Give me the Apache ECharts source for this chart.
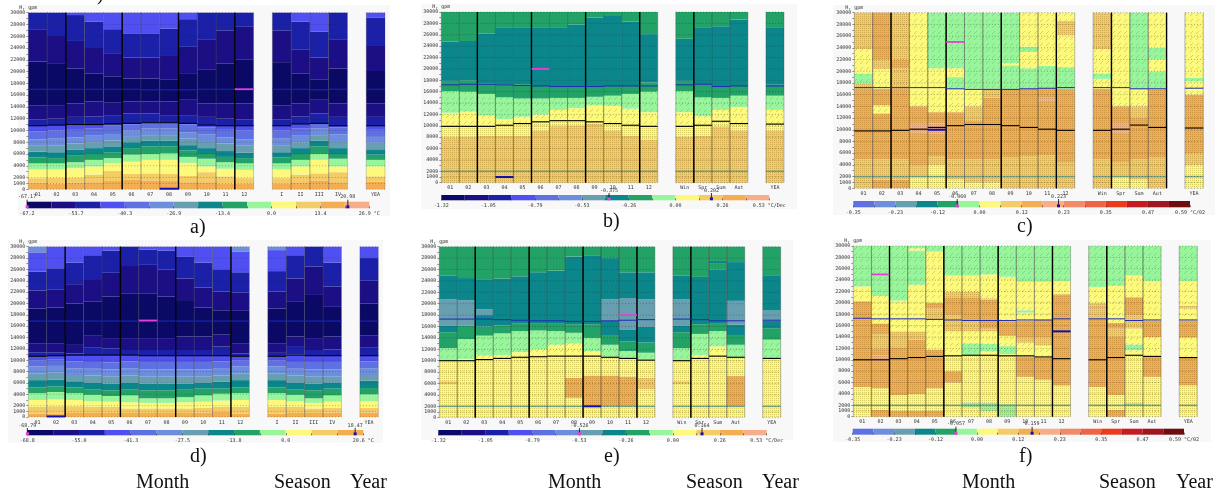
<!DOCTYPE html>
<html><head><meta charset="utf-8">
<style>html,body{margin:0;padding:0;background:#fff}#c{width:1224px;height:495px;filter:blur(0.35px)}</style>
<script src="https://cdn.jsdelivr.net/npm/echarts@6/dist/echarts.min.js"></script>
</head><body><div id="c"></div>
<script>
// ---- shared categories and ticks
const monthCats = ['01','02','03','04','05','06','07','08','09','10','11','12'];
const romanSeasons = ['I','II','III','IV'];
const namedSeasons = ['Win','Spr','Sum','Aut'];
const yearCat = ['YEA'];
const heightTicks = [0,1000,2000,4000,6000,8000,10000,12000,14000,16000,18000,20000,22000,24000,26000,28000,30000];
const levelColors = ['#0a0a66','#1c0f86','#1a20a8','#4f4ff2','#5f70e2','#6c8edc','#689fb0','#0b878c','#22a266','#98f59c','#fcf97c','#f4cc66','#f4ae52','#f6ae8a','#f08a68','#ee6444','#e83c1c','#c41c22','#a0161e','#6e0c10'];

// ---- each column: level, top (km), level, top ... from the ground upward
const a_bands = [
[12,1.1,11,1.9,10,3.4,9,4.4,8,5.4,7,6.4,6,7.5,5,8.5,4,9.8,3,10.8,2,11.9,1,14.2,0,21.7,1,27.2,2,30],
[12,1,11,2,10,3.4,9,4.4,8,5.3,7,6.3,6,7.4,5,8.6,4,10,3,10.9,2,12,1,14.3,0,21.3,1,26.2,2,30],
[12,1.1,11,2,10,3.6,9,4.6,8,5.7,7,6.7,6,7.8,5,8.8,4,10.1,3,10.9,2,12.3,1,14.6,0,20.5,1,25.2,2,29.6,3,30],
[12,1.2,11,2.5,10,3.9,9,5,8,6,7,7,6,8,5,9.1,4,10.3,3,11,2,12.4,1,14.9,0,19.7,1,24,2,28.5,3,30],
[12,1.4,11,3.1,10,4.4,9,5.3,8,6.3,7,7.3,6,8.3,5,9.4,4,10.8,3,11,2,12.6,1,14.7,0,19.2,1,23,2,27.2,3,30],
[12,1.6,11,2.6,10,4.7,9,5.9,8,7,7,8,6,8.9,5,10,4,11,3,11.1,2,12.9,1,14.9,0,18.8,1,22.4,2,26.5,3,30],
[12,1.5,11,2.7,10,5,9,6,8,7.3,7,8.3,6,9.2,5,10.3,4,11.2,3,11.3,2,12.9,1,14.9,0,18.8,1,22.4,2,26.5,3,30],
[12,1.4,11,2.6,10,5,9,6.1,8,7.3,7,8.3,6,9.2,5,10.3,4,11.2,3,11.3,2,12.6,1,14.9,0,18.7,1,22.8,2,27.3,3,30],
[12,1.2,11,2.3,10,4.5,9,5.5,8,6.6,7,7.5,6,8.6,5,9.7,4,11,3,11.2,2,12.6,1,15.2,0,19.6,1,24.2,2,28.9,3,30],
[12,1.2,11,2.9,10,3.9,9,5.2,8,6,7,7,6,8.2,5,9.3,4,10.5,3,10.9,2,12.3,1,14.6,0,20.4,1,25.5,2,30],
[12,1,11,2.2,10,3.5,9,4.6,8,5.5,7,6.5,6,7.8,5,8.8,4,10.1,3,10.8,2,12,1,14.6,0,21.4,1,27,2,30],
[12,1,11,1.9,10,3.3,9,4.4,8,5.3,7,6.2,6,7.4,5,8.5,4,10,3,10.8,2,11.9,1,14.6,0,22,1,27.6,2,30],
[12,1,11,1.9,10,3.4,9,4.4,8,5.4,7,6.3,6,7.5,5,8.6,4,10,3,10.8,2,11.9,1,14.2,0,21.6,1,27,2,30],
[12,1.2,11,2.5,10,3.9,9,5,8,6,7,7,6,8,5,9.1,4,10.3,3,11.1,2,12.4,1,14.6,0,19.7,1,23.7,2,28.5,3,30],
[12,1.5,11,2.7,10,5,9,6,8,7.3,7,8.3,6,9.2,5,10.3,4,11.2,2,12.9,1,15.2,0,18.6,1,22.4,2,26.8,3,30],
[12,1.2,11,2.9,10,3.9,9,5.2,8,6,7,7,6,8.2,5,9.3,4,10.5,3,10.8,2,12.3,1,14.6,0,20.5,1,25.5,2,30],
[12,1.3,11,2.2,10,3.9,9,5,8,5.9,7,6.8,6,7.9,5,8.9,4,10.1,3,10.8,2,12.3,1,14.6,0,20.1,1,24.5,2,29.2,3,30]];
const a_lower = [10.8,10.9,11,11,11.1,11.2,11.3,11.3,11.2,10.9,10.8,10.8,10.8,11.1,11.2,10.8,10.8];
const a_upper = [17,17,17,17,17,17,16.9,16.9,16.9,17,17,17,17,17,16.9,17,17];

const b_bands = [
[11,8,10,12.3,9,16.1,8,17.9,7,24.8,8,30],
[11,8.1,10,12.5,9,16,8,18,7,24.9,8,30],
[11,8.2,10,11.8,9,15.6,8,17.4,7,26.2,8,30],
[11,8.2,10,11.2,9,15,8,17.3,7,27.3,8,30],
[11,8.2,10,11.6,9,14.8,8,17.3,7,27.2,8,30],
[11,9.2,10,12,9,14.8,8,17,7,27.2,8,30],
[11,9.9,10,12.8,9,14.9,8,16.9,7,27.2,8,30],
[11,10,10,13.1,9,14.9,8,16.9,7,27.8,8,30],
[11,10.4,10,13.6,9,15.1,8,16.9,7,29,8,30],
[11,9.2,10,13.5,9,15.3,8,17,7,29.3,8,30],
[11,8.2,10,13,9,15.6,8,17,7,28.3,8,30],
[11,7.6,10,12.4,9,16,8,17.6,7,26.1,8,30],
[11,8.1,10,12.4,9,16.1,8,17.9,7,25.3,8,30],
[11,8.2,10,11.7,9,15,8,17.3,7,27.2,8,30],
[11,9.8,10,12.8,9,14.9,8,16.9,7,27.5,8,30],
[11,9.2,10,13.3,9,15.3,8,17,7,28.7,8,30],
[11,9.2,10,12.8,9,15.3,8,17.2,7,27.2,8,30]];
const b_lower = [9.9,9.9,9.9,10.1,10.4,10.7,10.9,10.9,10.7,10.4,10.1,9.9,9.9,10.1,10.8,10.4,10.3];
const b_upper = [17.2,17.3,17.3,17.2,17.1,17,16.9,16.9,16.9,17,17,17,17.2,17.3,16.9,17,17];

const c_bands = [
[11,5,12,17,11,17.9,9,19.6,10,23.8,11,30],
[12,1.5,11,5,12,12.8,10,14.2,12,17,10,20.4,11,22,12,30],
[12,1.5,11,5,12,17,11,20.5,12,22,11,30],
[10,2,11,4,12,9.5,13,11,12,14,10,30],
[10,4,11,5.5,12,9.3,13,11.1,12,13,10,20.5,9,30],
[10,1.5,11,5,12,13,10,17,9,19,10,20.5,9,30],
[10,1,11,5,12,11.5,11,14,10,17,9,30],
[10,1,11,5,12,15.5,11,17,9,30],
[11,5.2,12,16.9,9,21,10,21.4,9,30],
[11,5.5,12,17,9,20.5,10,23.3,9,24.2,10,30],
[11,5.6,12,15,13,15.6,12,17.2,9,20.9,10,30],
[11,4.5,12,17,9,20.7,10,26.2,11,28.6,10,30],
[11,5,12,17,10,18.7,9,19.6,10,23.8,11,30],
[10,2,11,4.5,12,9.5,13,11,12,14,10,30],
[10,1.5,11,5,12,12,11,14,10,17,9,30],
[11,5.2,12,16.9,9,20,10,22,9,24,10,30],
[10,4,11,6,12,16,10,18.3,9,18.9,10,30]];
const c_lower = [9.8,9.8,9.9,10.1,10.4,10.7,10.9,10.9,10.7,10.4,10.1,9.9,9.9,10.1,10.8,10.4,10.3];
const c_upper = [17.2,17.2,17.2,17.2,17.2,17,16.9,16.9,16.9,17,17.1,17.2,17.2,17.2,17,17,17.1];

const d_bands = [
[12,.6,11,1.8,10,3,9,4.2,8,5.2,7,6.5,6,7.7,5,8.9,4,10,3,10.7,2,11.4,1,13,0,19.1,1,22.3,2,25.6,3,29,5,30],
[12,.6,11,1.9,10,3.1,9,4.4,8,5.4,7,6.6,6,7.8,5,9,4,10.1,3,10.8,2,11.4,1,12.9,0,19.3,1,22.5,2,26.2,3,30],
[12,.7,11,1.9,10,3,9,4.2,8,5.2,7,6.3,6,7.4,5,8.6,4,9.8,3,10.9,2,11.2,1,12.7,0,20,1,23.4,2,27.2,3,30],
[12,.7,11,1.8,10,2.8,9,3.9,8,4.9,7,6,6,7.3,5,8.5,4,9.7,3,10.9,2,12.3,1,14.3,0,20.3,1,24.3,2,28.5,3,30],
[12,.7,11,1.8,10,2.7,9,3.7,8,4.7,7,5.9,6,7.1,5,8.4,4,9.6,3,10.9,2,12.1,1,13.9,0,21.2,1,25.4,2,29.3,3,30],
[12,.7,11,1.5,10,2.6,9,3.8,8,4.9,7,6.1,6,7.3,5,8.6,4,9.8,3,10.9,2,11.8,1,13.9,0,21.8,1,26.6,2,30],
[12,.7,11,1.5,10,2.5,9,3.3,8,4.7,7,5.9,6,7.1,5,8.4,4,9.7,3,10.8,2,11.8,1,13.9,0,21.8,1,26.8,2,29.5,3,30],
[12,.7,11,1.5,10,2.5,9,3.3,8,4.7,7,5.9,6,7.1,5,8.4,4,9.7,3,10.8,2,11.8,1,13.9,0,21.2,1,26,2,29.3,3,30],
[12,.7,11,1.5,10,2.6,9,3.5,8,4.8,7,5.9,6,7.1,5,8.4,4,9.7,3,10.8,2,11.8,1,14.2,0,20.6,1,24.4,2,28.2,3,30],
[12,.8,11,1.6,10,2.7,9,3.8,8,5,7,6,6,7.1,5,8.4,4,9.7,3,10.8,2,11.8,1,14.2,0,19.3,1,22.8,2,27.2,3,30],
[12,.9,11,1.8,10,2.9,9,4.1,8,5,7,6.2,6,7.3,5,8.5,4,9.8,3,10.8,2,12.4,1,14.5,0,18.8,1,22.1,2,25.9,3,30],
[12,.6,11,1.8,10,3,9,4.2,8,5.2,7,6.5,6,7.7,5,8.9,4,10,3,10.7,2,11.2,1,12.9,0,18.7,1,21.9,2,25.5,3,29.1,5,30],
[12,.6,11,1.8,10,3,9,4.2,8,5.2,7,6.5,6,7.7,5,8.9,4,10,3,10.7,2,11.3,1,13,0,19.1,1,22.1,2,25.7,3,29.4,5,30],
[12,.7,11,1.8,10,2.8,9,3.9,8,4.9,7,6,6,7.3,5,8.5,4,9.7,3,11,2,12.5,1,14.2,0,20.4,1,24.4,2,28.5,3,30],
[12,.7,11,1.5,10,2.5,9,3.3,8,4.7,7,5.9,6,7.1,5,8.4,4,9.7,3,10.8,2,11.8,1,13.9,0,21.5,1,26.5,2,30],
[12,.8,11,1.6,10,2.7,9,3.8,8,5,7,6,6,7.1,5,8.4,4,9.7,3,10.8,2,11.9,1,14.2,0,19.4,1,23,2,27.2,3,30],
[12,.8,11,1.6,10,2.8,9,4,8,5.1,7,6.4,6,7.4,5,8.6,4,9.8,3,10.8,2,12.3,1,14.4,0,20,1,24,2,28,3,30]];
const d_lower = [10.7,10.8,10.9,10.9,10.9,10.9,10.8,10.8,10.8,10.8,10.8,10.7,10.7,10.9,10.8,10.8,10.8];
const d_upper = [16.9,16.9,16.9,16.9,16.9,16.9,16.9,16.9,16.9,16.9,16.9,16.9,16.9,16.9,16.9,16.9,16.9];

const e_bands = [
[10,5.9,11,6.4,10,10,9,12.2,8,15,7,16.2,6,20.8,7,24.9,8,30],
[10,10.3,9,13.8,8,16.2,6,20.6,7,24.5,8,30],
[10,10.9,9,14.4,8,16,7,18,6,19,7,24.3,8,30],
[10,11,9,14.8,8,16.2,7,24.4,8,30],
[10,11.5,9,15.2,8,16.5,7,24.8,8,30],
[10,12,9,15.3,8,16.5,7,25.5,8,30],
[10,12.8,9,15.2,8,16.5,7,25.8,8,30],
[10,3.5,12,7,10,13,9,14.9,8,16.4,7,28.3,8,30],
[10,2,12,7.4,10,11.7,9,14,8,16.4,7,28.5,8,30],
[10,2,12,7.4,10,10.7,9,12.8,8,14.5,7,17,6,20.8,7,28,8,30],
[10,2,12,7.2,10,10.4,9,11.7,8,13.4,7,15.5,6,21,7,25.5,8,30],
[10,5,11,7,10,10.2,9,11.4,8,13.2,7,16,6,20.8,7,25.5,8,30],
[10,5.9,11,6.4,10,10.1,9,12.2,8,15,7,16.2,6,20.8,7,24.9,8,30],
[10,11,9,14.7,8,16.4,7,24.7,8,30],
[10,12.5,9,15.2,8,16.5,7,26,8,27,7,27.5,8,30],
[10,2,12,7.3,10,10.6,9,12.8,8,14.5,7,16.3,6,20.5,7,27.3,8,30],
[10,10.4,9,13.7,8,15.7,7,17,6,18.8,7,25,8,30]];
const e_lower = [10,10,10.2,10.4,10.6,10.7,10.8,10.8,10.8,10.6,10.4,10.1,10,10.4,10.8,10.6,10.4];
const e_upper = [17.3,17.3,17.3,17.2,17.1,17,17,16.9,16.9,17,17.1,17.2,17.3,17.2,17,17,17.1];

const f_bands = [
[10,5.2,12,20.3,10,22.9,9,30],
[12,1.2,10,5,12,9.8,13,10.8,12,12,11,14.5,12,16.4,10,21.2,9,30],
[12,1,10,3.8,12,12.2,11,15,10,20.4,9,30],
[12,1,10,4,12,13.5,11,15,10,23.2,9,29.2,10,29.6,9,30],
[12,1,10,5,12,11.8,10,17,11,19,12,20,10,29,9,30],
[10,6,12,8,10,15,11,17.9,12,21,11,22,10,24.8,9,30],
[10,1.6,9,2.5,10,10.8,9,12.9,10,15,11,16.8,12,21,11,22,10,24.8,9,30],
[10,1,9,2.5,10,11.5,9,12.8,10,15,11,15.5,12,20.6,11,20.8,10,25,9,30],
[9,2.2,10,11,9,12.4,10,14.2,12,16.8,10,24.6,9,30],
[10,7,12,10.6,10,13,11,14,12,16.9,10,18.3,9,18.7,10,23.7,9,30],
[10,6.5,12,10.4,10,12.5,11,14,12,17,10,23.7,9,30],
[10,5.5,12,21.5,10,23.8,9,30],
[10,5.2,12,17.2,11,19,12,19.4,11,20,10,22.8,9,30],
[12,1.2,10,3.8,12,14,11,15.5,12,16.5,10,23,9,30],
[10,2,9,2.4,10,11.7,9,12.7,10,15.5,11,17.9,12,21,10,24.8,9,30],
[10,7,12,10.6,10,14,12,16.9,10,23.8,9,30],
[10,5.5,12,10.5,10,13.9,12,16.9,10,19,11,19.5,10,23.8,9,30]];
const f_lower = [10,10,10.2,10.4,10.6,10.7,10.8,10.8,10.7,10.7,10.5,10.2,10,10.4,10.8,10.6,10.4];
const f_upper = [17.3,17.2,17.2,17.2,17.1,17,16.9,16.9,16.9,17,17,17.2,17.2,17.2,16.9,17,17];

// ---- extreme positions: [column, km] and the scale values that go with them
const a_extreme = {min:[11,17], max:[7,0.1], minVal:-67.17, maxVal:20.98};
const b_extreme = {min:[5,20], max:[3,1], minVal:-0.375, maxVal:0.202};
const c_extreme = {min:[5,25], max:[4,10], minVal:-0.060, maxVal:0.223};
const d_extreme = {min:[6,17], max:[1,0.1], minVal:-68.79, maxVal:18.47};
const e_extreme = {min:[10,18], max:[8,2], minVal:-0.526, maxVal:0.164};
const f_extreme = {min:[1,25], max:[11,15], minVal:-0.057, maxVal:0.159};

// ---- colour-bar scales
const tempScaleA = {min:-67.2, step:6.72, first:0, count:14, labels:['-67.2','','-53.7','','-40.3','','-26.9','','-13.4','','0.0','','13.4','','26.9 °C']};
const trendScale = {min:-1.32, step:0.132, first:0, count:14, labels:['-1.32','','-1.05','','-0.79','','-0.53','','-0.26','','0.00','','0.26','','0.53 °C/Dec']};
const wideScale  = {min:-0.35, step:0.05875, first:4, count:16, labels:['-0.35','','-0.23','','-0.12','','0.00','','0.12','','0.23','','0.35','','0.47','','0.59 °C/02']};
const tempScaleD = {min:-68.8, step:6.88, first:0, count:13, labels:['-68.8','','-55.0','','-41.3','','-27.5','','-13.8','','0.0','','','20.6 °C']};

// ---- page layout (pixels)
const panels = [
 {bands:a_bands,lower:a_lower,upper:a_upper,ext:a_extreme,scale:tempScaleA,seasons:romanSeasons,stipple:false,thick:[2,5,8,11],edge:.35,tick:.45,
  plot:[28.3,12.7,356.7,176.6],bar:[27,201.7,342.3,6.6],bg:[18,5,372,211],cap:['a)',190,218]},
 {bands:b_bands,lower:b_lower,upper:b_upper,ext:b_extreme,scale:trendScale,seasons:namedSeasons,stipple:true,thick:[2,5,8,11,14],edge:.5,tick:.55,
  plot:[441.3,12,342.7,170.7],bar:[441.3,195,328,5.3],bg:[421,4,376,205],cap:['b)',603,212]},
 {bands:c_bands,lower:c_lower,upper:c_upper,ext:c_extreme,scale:wideScale,seasons:namedSeasons,stipple:true,thick:[2,5,8,11,14,17],edge:.5,tick:.55,
  plot:[854.3,12.7,349,175.6],bar:[853.3,201,336.7,6.3],bg:[833,5,382,210],cap:['c)',1017,217]},
 {bands:d_bands,lower:d_lower,upper:d_upper,ext:d_extreme,scale:tempScaleD,seasons:romanSeasons,stipple:false,thick:[2,5,8,11],edge:.35,tick:.45,
  plot:[28.3,246.7,350,170.3],bar:[27.3,430,336,5.3],bg:[8,240,375,203],cap:['d)',190,447]},
 {bands:e_bands,lower:e_lower,upper:e_upper,ext:e_extreme,scale:trendScale,seasons:namedSeasons,stipple:true,thick:[2,5,8,11,14],edge:.5,tick:.55,
  plot:[439.3,246.7,341.4,171],bar:[438.3,430,328.4,5.3],bg:[421,240,372,200],cap:['e)',604,447]},
 {bands:f_bands,lower:f_lower,upper:f_upper,ext:f_extreme,scale:wideScale,seasons:namedSeasons,stipple:true,thick:[2,5,8,11,14],edge:.5,tick:.55,
  plot:[853.3,246,344,170.7],bar:[852.7,428.7,331.3,6],bg:[833,240,378,202],cap:['f)',1019,447]}
];
const colSlots = [0,1,2,3,4,5,6,7,8,9,10,11,13,14,15,16,18];
const bottomWords = [['Month',136],['Season',274],['Year',350],['Month',548],['Season',686],['Year',762],['Month',962],['Season',1099],['Year',1176]];

const labelFont = {fontFamily:'DejaVu Sans Mono',fontSize:5,color:'#333'};

function makePattern(size,paint){const k=document.createElement('canvas');k.width=k.height=size;paint(k.getContext('2d'));return k;}
const dotsPat = makePattern(2,g=>{g.fillStyle='rgba(110,80,20,.26)';g.fillRect(0,0,1,1);});
const slashPat = makePattern(6,g=>{g.fillStyle='rgba(120,120,40,.28)';g.fillRect(4,1,1,1);g.fillRect(3,2,1,1);g.fillRect(2,3,1,1);});

function rectRender(fillOf){return (p,api)=>{
  const s=api.value(0),a=api.coord([s,api.value(1)]),b=api.coord([s,api.value(2)]),w=api.size([1,0])[0];
  return {type:'rect',shape:{x:a[0]-w/2,y:b[1],width:w,height:a[1]-b[1]},style:{fill:fillOf(api.value(3))},silent:true};
};}
function hlineRender(style){return (p,api)=>{
  const s=api.value(0),a=api.coord([s,api.value(1)]),w=api.size([1,0])[0];
  return {type:'line',shape:{x1:a[0]-w/2,y1:a[1],x2:a[0]+w/2,y2:a[1]},style,silent:true};
};}
function vlineRender(style){return (p,api)=>{
  const e=api.value(0),a=api.coord([e,0]),b=api.coord([e,30000]),w=api.size([1,0])[0];
  const x=a[0]+w/2*api.value(1);
  return {type:'line',shape:{x1:x,y1:a[1],x2:x,y2:b[1]},style,silent:true};
};}

const option={animation:false,backgroundColor:'#fff',grid:[],xAxis:[],yAxis:[],series:[],graphic:{elements:[]}};

panels.forEach((P,i)=>{
  const plotIdx=i*2, barIdx=i*2+1;
  const cats=[...monthCats,'',...P.seasons,'',...yearCat];
  option.grid.push({left:P.plot[0],top:P.plot[1],width:P.plot[2],height:P.plot[3]});
  option.xAxis.push({gridIndex:plotIdx,type:'category',data:cats,axisTick:{show:false},axisLine:{show:false},splitLine:{show:false},
    axisLabel:{...labelFont,interval:0,margin:3}});
  option.yAxis.push({gridIndex:plotIdx,type:'value',min:0,max:30000,interval:1000,name:'H, gpm',nameLocation:'end',nameGap:2,
    nameTextStyle:{...labelFont,align:'center'},splitLine:{show:false},axisLine:{show:false},
    axisTick:{show:true,length:2,lineStyle:{color:'#555',width:.6}},
    axisLabel:{...labelFont,margin:3,formatter:v=>heightTicks.includes(v)?String(v):''}});

  const bandItems=[],overlayItems=[],tickItems=[],lowerItems=[],upperItems=[],surfaceItems=[];
  P.bands.forEach((col,k)=>{
    const slot=colSlots[k],black=P.lower[k];
    let bottom=0;
    for(let j=0;j<col.length;j+=2){
      const lvl=col[j],top=col[j+1];
      bandItems.push([slot,bottom*1000,top*1000,lvl]);
      if(P.stipple&&lvl>=9){
        if(bottom<black) overlayItems.push([slot,bottom*1000,Math.min(top,black)*1000,0]);
        if(top>black) overlayItems.push([slot,Math.max(bottom,black)*1000,top*1000,lvl>=11?0:1]);
      }
      bottom=top;
    }
    heightTicks.forEach(t=>tickItems.push([slot,t]));
    lowerItems.push([slot,P.lower[k]*1000]);
    upperItems.push([slot,P.upper[k]*1000]);
    surfaceItems.push([slot,2000]);
  });
  const base={type:'custom',xAxisIndex:plotIdx,yAxisIndex:plotIdx,silent:true,clip:false};
  option.series.push({...base,name:'bands',z:2,encode:{x:0,y:[1,2]},renderItem:rectRender(l=>levelColors[l]),data:bandItems});
  if(P.stipple){
    option.series.push({...base,name:'stipple',z:3,encode:{x:0,y:[1,2]},
      renderItem:rectRender(t=>({image:t===0?dotsPat:slashPat,repeat:'repeat'})),data:overlayItems});
    option.series.push({...base,name:'surface',z:4,encode:{x:0,y:1},
      renderItem:hlineRender({stroke:'#6fa690',lineWidth:1.6,opacity:.9}),data:surfaceItems});
  }
  option.series.push({...base,name:'ticks',z:5,encode:{x:0,y:1},
    renderItem:hlineRender({stroke:'#222',lineWidth:.7,lineDash:[1,2],opacity:P.tick}),data:tickItems});
  const edges=[];
  colSlots.forEach(s=>{edges.push([s,-1]);edges.push([s,1]);});
  option.series.push({...base,name:'edges',z:6,encode:{x:0,y:1},
    renderItem:vlineRender({stroke:'#444',lineWidth:.7,opacity:P.edge}),data:edges});
  option.series.push({...base,name:'thick',z:7,encode:{x:0,y:1},
    renderItem:vlineRender({stroke:'#000',lineWidth:1.4}),data:P.thick.map(s=>[s,-1])});
  option.series.push({...base,name:'upper',z:8,encode:{x:0,y:1},
    renderItem:hlineRender({stroke:'#1c2ab4',lineWidth:1}),data:upperItems});
  option.series.push({...base,name:'lower',z:8,encode:{x:0,y:1},
    renderItem:hlineRender({stroke:'#000',lineWidth:1.1}),data:lowerItems});
  option.series.push({...base,name:'minMark',z:9,encode:{x:0,y:1},
    renderItem:hlineRender({stroke:'#e63fd8',lineWidth:1.8}),data:[[colSlots[P.ext.min[0]],P.ext.min[1]*1000]]});
  option.series.push({...base,name:'maxMark',z:9,encode:{x:0,y:1},
    renderItem:hlineRender({stroke:'#1410b0',lineWidth:2}),data:[[colSlots[P.ext.max[0]],P.ext.max[1]*1000]]});

  // colour bar
  const S=P.scale, lo=S.min, hi=S.min+S.step*S.count;
  option.grid.push({left:P.bar[0],top:P.bar[1],width:P.bar[2],height:P.bar[3]});
  option.xAxis.push({gridIndex:barIdx,type:'value',min:lo,max:hi,interval:S.step,z:6,
    axisLine:{show:false},splitLine:{show:false},axisTick:{show:true,length:2,inside:true,lineStyle:{color:'#444',width:.7}},
    axisLabel:{...labelFont,margin:3,showMinLabel:true,showMaxLabel:true,hideOverlap:false,
      formatter:v=>S.labels[Math.round((v-lo)/S.step)]||''}});
  option.yAxis.push({gridIndex:barIdx,type:'value',min:0,max:1,show:false});
  const segs=[];
  for(let n=0;n<S.count;n++) segs.push([lo+n*S.step,lo+(n+1)*S.step,S.first+n]);
  option.series.push({type:'custom',name:'colorbar',xAxisIndex:barIdx,yAxisIndex:barIdx,z:2,silent:true,clip:false,encode:{x:[0,1]},
    renderItem:(p,api)=>{const a=api.coord([api.value(0),0]),b=api.coord([api.value(1),1]);
      return {type:'rect',shape:{x:a[0],y:b[1],width:b[0]-a[0],height:a[1]-b[1]},style:{fill:levelColors[api.value(2)]},silent:true};},
    data:segs});
  const markers=[[P.ext.minVal,'#e63fd8',String(P.ext.minVal.toFixed(Math.abs(P.ext.minVal)>1?2:3))],
                 [P.ext.maxVal,'#1410b0',String(P.ext.maxVal.toFixed(Math.abs(P.ext.maxVal)>1?2:3))]];
  option.series.push({type:'custom',name:'barmarks',xAxisIndex:barIdx,yAxisIndex:barIdx,z:8,silent:true,clip:false,encode:{x:0},
    renderItem:(p,api)=>{const c=api.coord([api.value(0),0]),t=api.coord([api.value(0),1]);
      const m=markers[p.dataIndex];
      return {type:'group',children:[
        {type:'rect',shape:{x:c[0]-1.5,y:c[1]-3,width:3,height:3},style:{fill:m[1]}},
        {type:'line',shape:{x1:c[0],y1:t[1]-2,x2:c[0],y2:c[1]-3},style:{stroke:'#000',lineWidth:.8}},
        {type:'text',x:c[0],y:t[1]-2,style:{text:m[2],fontFamily:'DejaVu Sans Mono',fontSize:5,fill:'#333',textAlign:'center',textVerticalAlign:'bottom'}}
      ]};},
    data:markers.map(m=>[m[0]])});

  option.graphic.elements.push({type:'rect',z:-1,silent:true,shape:{x:P.bg[0],y:P.bg[1],width:P.bg[2],height:P.bg[3]},style:{fill:'#f8f8f8'}});
  option.graphic.elements.push({type:'text',x:P.cap[1],y:P.cap[2],silent:true,style:{text:P.cap[0],font:'20px "Liberation Serif"',fill:'#111'}});
});
bottomWords.forEach(w=>option.graphic.elements.push({type:'text',x:w[1],y:473,silent:true,style:{text:w[0],font:'20px "Liberation Serif"',fill:'#111'}}));
option.graphic.elements.push({type:'text',x:97,y:-15,silent:true,style:{text:')',font:'20px "Liberation Serif"',fill:'#111'}});

const chart=echarts.init(document.getElementById('c'),null,{renderer:'canvas'});
chart.setOption(option);
</script></body></html>
